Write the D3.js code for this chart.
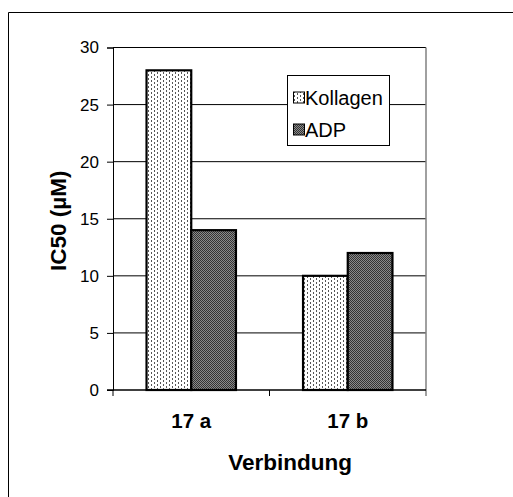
<!DOCTYPE html>
<html>
<head>
<meta charset="utf-8">
<script src="https://cdn.jsdelivr.net/npm/d3@7"></script>
<style>
  html, body { margin: 0; padding: 0; background: #fff; }
  svg { display: block; }
  text { font-family: "Liberation Sans", Arial, sans-serif; fill: #000; }
</style>
</head>
<body>
<script>
// Compounds on the x axis, one value per compound for each assay
const categories = ["17 a", "17 b"];
const seriesNames = ["Kollagen", "ADP"];
const kollagen = [28, 10];
const adp = [14, 12];
const yTicks = [0, 5, 10, 15, 20, 25, 30];
const yTitle = "IC50 (µM)";
const xTitle = "Verbindung";

const W = 513, H = 497;
const plot = { left: 113, right: 426, top: 47.5, bottom: 390 };

const svg = d3.select("body").append("svg")
  .attr("width", W).attr("height", H);

// Fill patterns: light dotted dashes and dark checker
const defs = svg.append("defs");
const pK = defs.append("pattern").attr("id", "pat-kollagen")
  .attr("patternUnits", "userSpaceOnUse").attr("width", 6).attr("height", 4);
pK.append("rect").attr("width", 6).attr("height", 4).attr("fill", "#fff");
pK.append("rect").attr("x", 1).attr("y", 0).attr("width", 1).attr("height", 2).attr("fill", "#555");
pK.append("rect").attr("x", 4).attr("y", 2).attr("width", 1).attr("height", 2).attr("fill", "#555");

const pA = defs.append("pattern").attr("id", "pat-adp")
  .attr("patternUnits", "userSpaceOnUse").attr("width", 2).attr("height", 2);
pA.append("rect").attr("width", 2).attr("height", 2).attr("fill", "#8a8a8a");
pA.append("rect").attr("x", 0).attr("y", 0).attr("width", 1).attr("height", 1).attr("fill", "#333");
pA.append("rect").attr("x", 1).attr("y", 1).attr("width", 1).attr("height", 1).attr("fill", "#333");

const fills = ["url(#pat-kollagen)", "url(#pat-adp)"];
const series = [kollagen, adp];

// Outer chart frame (top and left edges)
svg.append("path").attr("d", "M8.5,497 V12.5 H513")
  .attr("fill", "none").attr("stroke", "#000").attr("stroke-width", 1);

const x = d3.scaleBand().domain(categories)
  .range([plot.left, plot.right]).paddingInner(0).paddingOuter(0);
const xs = d3.scaleBand().domain(seriesNames)
  .range([0, x.bandwidth()]).paddingInner(0).paddingOuter(0.75);
const y = d3.scaleLinear().domain([0, 30]).range([plot.bottom, plot.top]);

// Horizontal gridlines
svg.append("g").selectAll("line").data(yTicks.filter(d => d > 0)).join("line")
  .attr("x1", plot.left).attr("x2", plot.right)
  .attr("y1", d => y(d)).attr("y2", d => y(d))
  .attr("stroke", "#000").attr("stroke-width", 1);

// Right edge of the plot area
svg.append("line")
  .attr("x1", plot.right).attr("x2", plot.right)
  .attr("y1", plot.top).attr("y2", plot.bottom + 6)
  .attr("stroke", "#808080").attr("stroke-width", 1.5);

// Bars
categories.forEach((c, i) => {
  series.forEach((s, j) => {
    svg.append("rect")
      .attr("x", x(c) + xs(seriesNames[j]))
      .attr("y", y(s[i]))
      .attr("width", xs.bandwidth())
      .attr("height", y(0) - y(s[i]))
      .attr("fill", fills[j])
      .attr("stroke", "#000").attr("stroke-width", 2.2);
  });
});

// Y axis
const yAxis = svg.append("g")
  .attr("transform", `translate(${plot.left},0)`)
  .call(d3.axisLeft(y).tickValues(yTicks).tickSize(6).tickPadding(8));
yAxis.select(".domain").attr("stroke", "#000");
yAxis.selectAll(".tick line").attr("stroke", "#000");
yAxis.selectAll("text").attr("font-size", 17)
  .attr("font-family", "Liberation Sans, Arial, sans-serif");

// X axis: baseline and category divider ticks
svg.append("line")
  .attr("x1", plot.left - 6).attr("x2", plot.right)
  .attr("y1", plot.bottom).attr("y2", plot.bottom)
  .attr("stroke", "#000").attr("stroke-width", 1.5);
const dividers = [plot.left, x(categories[1])];
svg.append("g").selectAll("line").data(dividers).join("line")
  .attr("x1", d => d).attr("x2", d => d)
  .attr("y1", plot.bottom).attr("y2", plot.bottom + 6)
  .attr("stroke", "#000").attr("stroke-width", 1);

svg.append("g").selectAll("text").data(categories).join("text")
  .attr("x", d => x(d) + x.bandwidth() / 2)
  .attr("y", 428)
  .attr("text-anchor", "middle")
  .attr("font-size", 20.5).attr("font-weight", "bold")
  .text(d => d);

// Axis titles
svg.append("text")
  .attr("x", 290).attr("y", 470)
  .attr("text-anchor", "middle")
  .attr("font-size", 22.5).attr("font-weight", "bold")
  .text(xTitle);

svg.append("text")
  .attr("transform", `translate(66,${(plot.top + plot.bottom) / 2 + 2}) rotate(-90)`)
  .attr("text-anchor", "middle")
  .attr("font-size", 22.5).attr("font-weight", "bold")
  .text(yTitle);

// Legend
const lg = svg.append("g").attr("transform", "translate(287,75)");
lg.append("rect").attr("x", 0.5).attr("y", 0.5).attr("width", 102).attr("height", 70)
  .attr("fill", "#fff").attr("stroke", "#000").attr("stroke-width", 1);
seriesNames.forEach((n, j) => {
  const cy = 22.5 + j * 32;
  lg.append("rect").attr("x", 6.5).attr("y", cy - 5.5).attr("width", 11).attr("height", 11)
    .attr("fill", fills[j]).attr("stroke", "#000").attr("stroke-width", 1);
  lg.append("text").attr("x", 18).attr("y", cy + 7)
    .attr("font-size", 20).text(n);
});
</script>
</body>
</html>
